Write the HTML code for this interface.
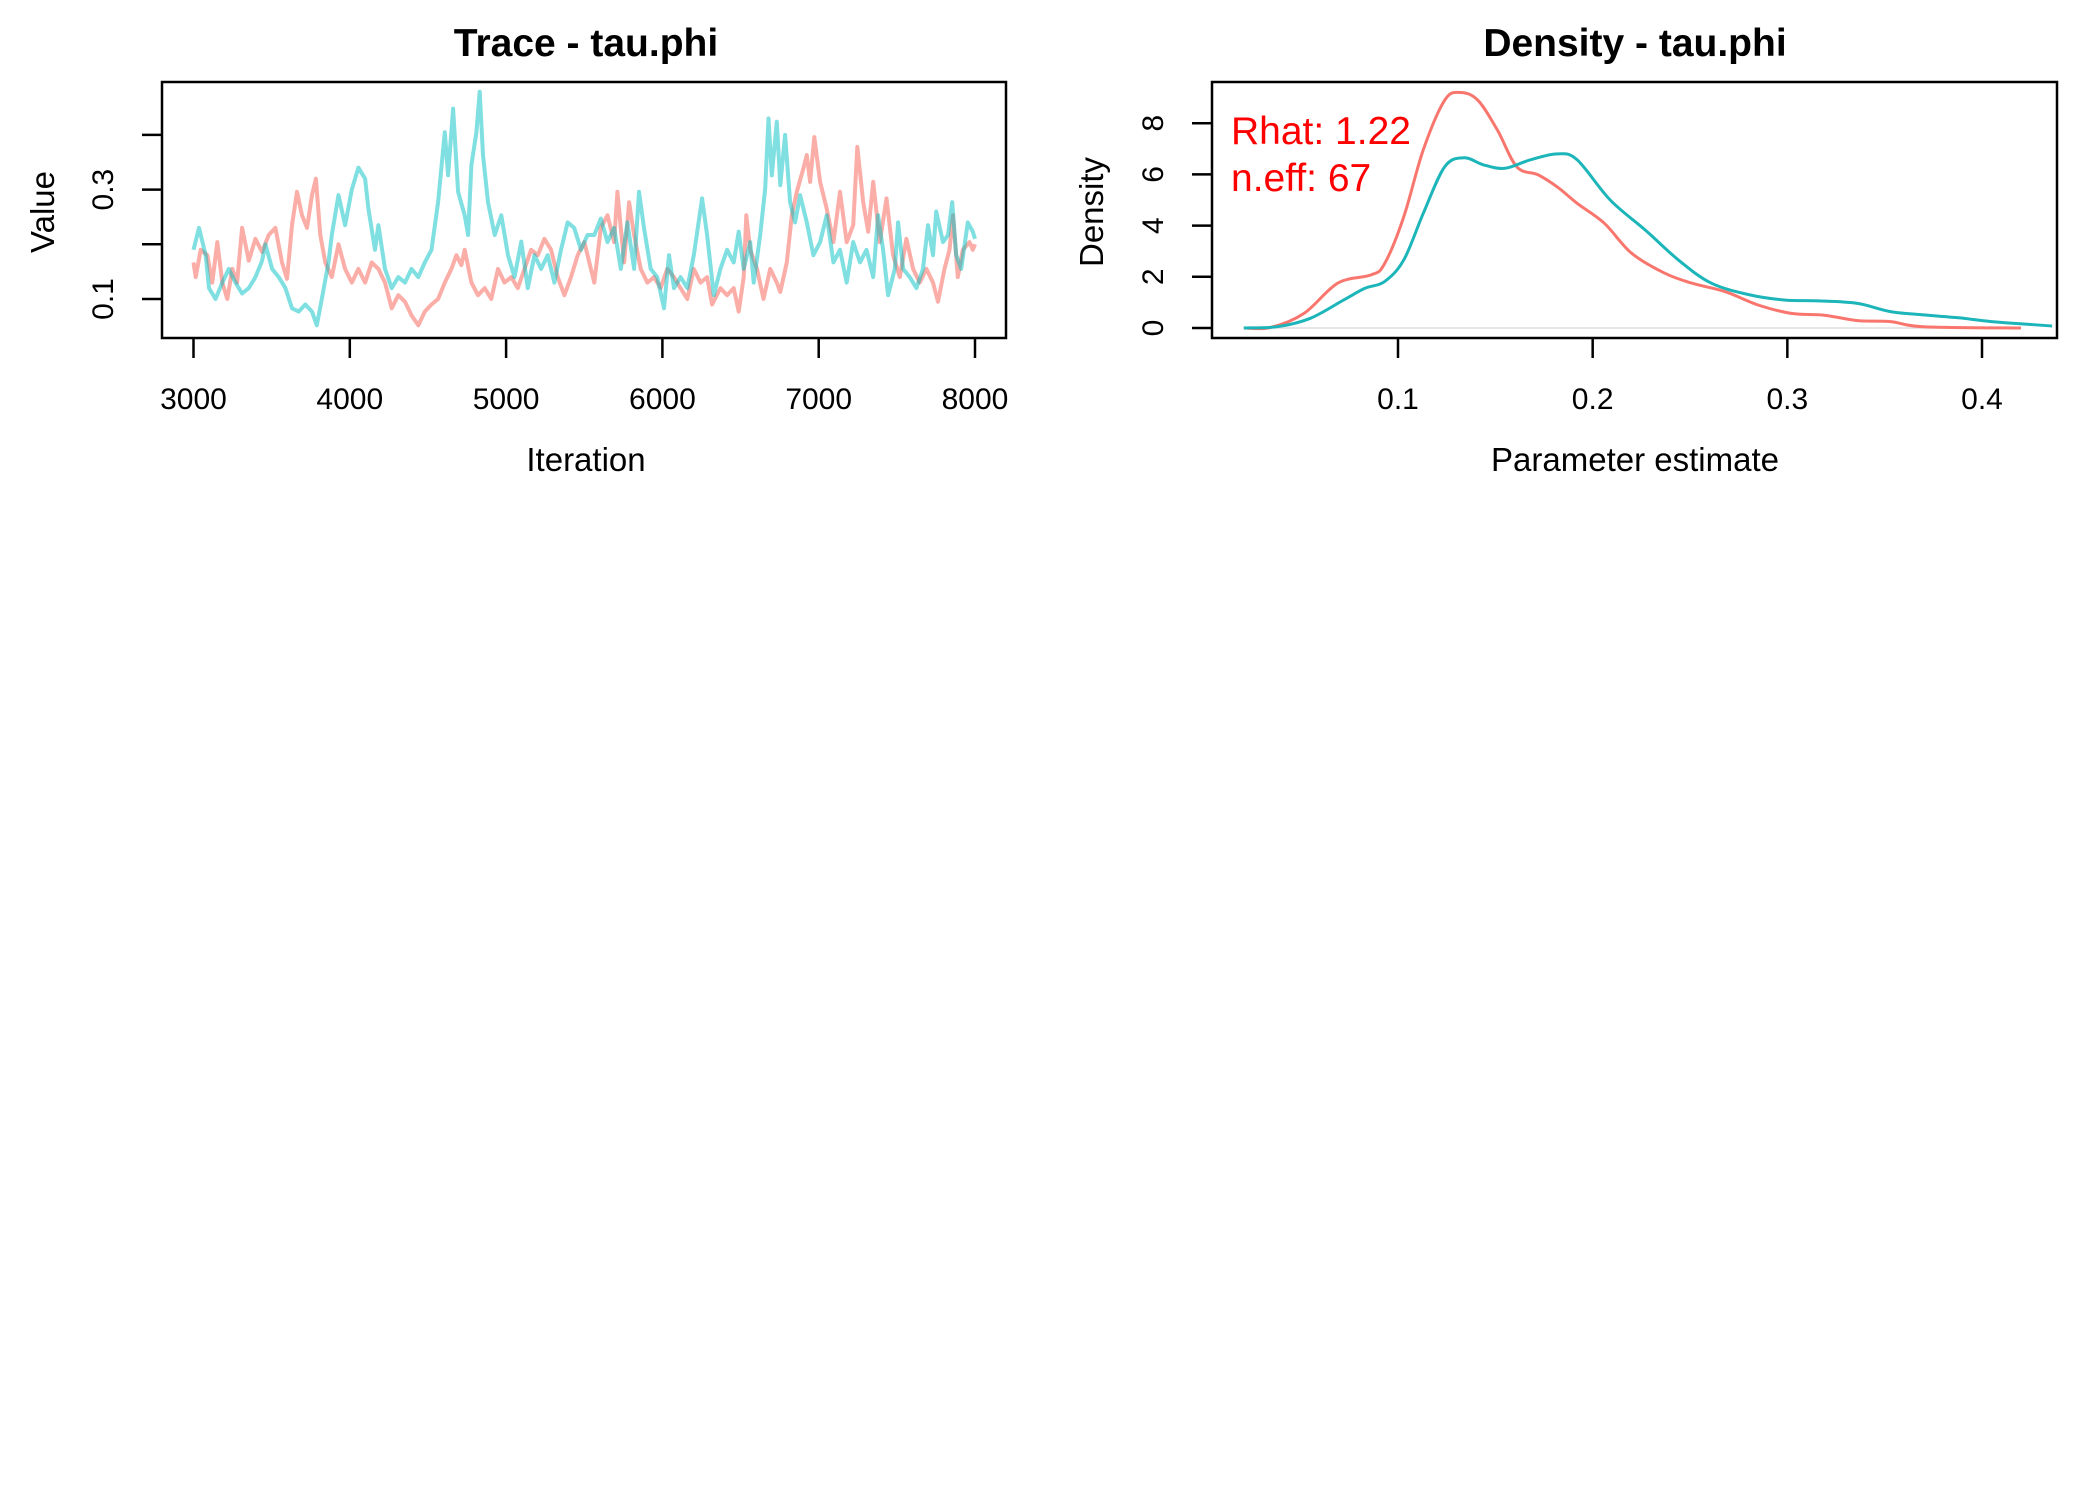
<!DOCTYPE html>
<html><head><meta charset="utf-8"><style>
html,body{margin:0;padding:0;background:#fff;}
svg{display:block;font-family:"Liberation Sans",Arial,sans-serif;}
</style></head><body>
<svg id="fig" width="2100" height="1500" viewBox="0 0 2100 1500" xmlns="http://www.w3.org/2000/svg">
<g id="trace"></g>
<g id="dens"></g>
</svg>
<script>
// ---- Trace data ----
const tealIter=[3000,3035,3078,3099,3141,3184,3226,3269,3311,3354,3396,3439,3460,3503,3545,3588,3630,3673,3715,3758,3789,3821,3864,3885,3928,3970,4013,4055,4098,4119,4161,4183,4225,4268,4310,4353,4395,4438,4480,4523,4565,4608,4629,4661,4693,4735,4757,4778,4810,4831,4852,4884,4927,4969,5012,5054,5097,5139,5182,5224,5266,5309,5351,5394,5436,5479,5521,5564,5606,5649,5691,5734,5776,5819,5850,5882,5925,5967,6010,6042,6074,6116,6159,6201,6254,6286,6329,6371,6414,6456,6488,6520,6562,6584,6626,6658,6679,6700,6732,6754,6785,6817,6849,6881,6924,6966,7009,7051,7094,7136,7179,7221,7264,7306,7349,7380,7412,7444,7487,7508,7540,7582,7625,7667,7699,7731,7752,7795,7827,7854,7880,7912,7954,7986,8000];
const tealVal=[0.19,0.23,0.18,0.12,0.10,0.13,0.155,0.13,0.11,0.12,0.14,0.17,0.20,0.155,0.14,0.12,0.083,0.077,0.09,0.077,0.052,0.10,0.167,0.217,0.29,0.235,0.30,0.34,0.32,0.265,0.19,0.235,0.155,0.12,0.14,0.13,0.155,0.14,0.167,0.19,0.277,0.405,0.326,0.448,0.296,0.253,0.217,0.345,0.405,0.479,0.363,0.277,0.217,0.253,0.18,0.14,0.205,0.12,0.18,0.155,0.18,0.13,0.19,0.24,0.23,0.19,0.217,0.217,0.247,0.204,0.23,0.155,0.24,0.155,0.296,0.23,0.155,0.14,0.083,0.18,0.12,0.14,0.12,0.18,0.284,0.217,0.107,0.155,0.19,0.167,0.223,0.155,0.204,0.13,0.217,0.302,0.43,0.326,0.424,0.308,0.40,0.277,0.24,0.29,0.24,0.18,0.204,0.253,0.167,0.19,0.13,0.204,0.167,0.19,0.14,0.253,0.19,0.107,0.155,0.24,0.155,0.14,0.12,0.155,0.235,0.18,0.26,0.204,0.217,0.277,0.18,0.155,0.24,0.223,0.21];
const redIter=[3000,3014,3046,3088,3120,3152,3184,3216,3248,3279,3311,3354,3396,3439,3481,3524,3566,3598,3630,3662,3694,3726,3758,3783,3811,3843,3885,3928,3970,4013,4055,4098,4140,4183,4225,4268,4310,4353,4395,4438,4480,4523,4565,4608,4650,4682,4714,4735,4778,4820,4863,4905,4948,4990,5033,5075,5118,5160,5203,5245,5288,5330,5373,5415,5458,5500,5564,5606,5649,5691,5712,5755,5787,5819,5861,5904,5946,5989,6031,6074,6116,6159,6201,6244,6286,6318,6371,6414,6456,6488,6520,6537,6562,6605,6647,6690,6732,6754,6796,6828,6860,6902,6924,6945,6972,7009,7051,7094,7136,7179,7221,7247,7285,7317,7349,7391,7434,7476,7519,7561,7604,7646,7689,7731,7763,7805,7837,7859,7890,7922,7965,7986,8000];
const redVal=[0.167,0.14,0.19,0.18,0.13,0.204,0.13,0.10,0.155,0.13,0.23,0.17,0.21,0.186,0.217,0.23,0.167,0.137,0.235,0.296,0.253,0.23,0.29,0.32,0.217,0.167,0.14,0.20,0.155,0.13,0.155,0.13,0.167,0.155,0.13,0.083,0.107,0.095,0.07,0.052,0.077,0.09,0.10,0.13,0.155,0.18,0.162,0.19,0.13,0.107,0.12,0.10,0.155,0.13,0.14,0.12,0.155,0.19,0.18,0.21,0.19,0.14,0.107,0.14,0.18,0.204,0.13,0.23,0.253,0.204,0.296,0.167,0.277,0.217,0.155,0.13,0.14,0.12,0.155,0.14,0.12,0.10,0.155,0.13,0.14,0.09,0.12,0.107,0.12,0.077,0.14,0.253,0.19,0.155,0.10,0.155,0.13,0.113,0.167,0.253,0.296,0.339,0.363,0.314,0.396,0.314,0.265,0.204,0.296,0.204,0.235,0.378,0.277,0.223,0.314,0.204,0.284,0.18,0.14,0.21,0.155,0.13,0.155,0.13,0.095,0.155,0.19,0.253,0.14,0.19,0.204,0.19,0.2];
const traceXTicks=[3000,4000,5000,6000,7000,8000];
const traceYTicks=[0.1,0.2,0.3,0.4];
const traceYLabels=["0.1","","0.3",""];
// ---- Density data ----
const redDx=[0.0208,0.0345,0.0517,0.069,0.086,0.093,0.103,0.113,0.124,0.132,0.141,0.151,0.161,0.172,0.182,0.192,0.206,0.220,0.237,0.251,0.268,0.285,0.302,0.319,0.336,0.353,0.370,0.42];
const redDy=[0,0.02,0.57,1.75,2.07,2.5,4.35,6.96,8.9,9.2,8.9,7.74,6.3,5.98,5.5,4.87,4.09,2.92,2.14,1.75,1.42,0.9,0.57,0.5,0.29,0.25,0.05,0];
const tealDx=[0.0208,0.038,0.055,0.072,0.083,0.093,0.103,0.113,0.124,0.134,0.144,0.155,0.168,0.182,0.192,0.209,0.227,0.244,0.261,0.281,0.299,0.316,0.336,0.353,0.370,0.388,0.405,0.436];
const tealDy=[0,0.05,0.38,1.09,1.55,1.81,2.66,4.48,6.3,6.65,6.37,6.24,6.57,6.8,6.57,5.0,3.83,2.66,1.75,1.29,1.09,1.06,0.96,0.64,0.51,0.4,0.25,0.08];
const densXTicks=[0.1,0.2,0.3,0.4];
const densYTicks=[0,2,4,6,8];

const NS="http://www.w3.org/2000/svg";
function mk(parent,tag,attrs,text){const e=document.createElementNS(NS,tag);for(const k in attrs)e.setAttribute(k,attrs[k]);if(text!==undefined)e.textContent=text;parent.appendChild(e);return e;}

// Trace axes
const tx=v=>193.5+(v-3000)*(975-193.5)/5000;
const ty=v=>299-(v-0.1)*547;
const T=document.getElementById('trace');
let e;
e=mk(T,'text',{x:586,y:56,'font-size':39,'font-weight':'bold','text-anchor':'middle'},'Trace - tau.phi');


function poly(parent,xs,ys,fx,fy,color,op,w){let d='';for(let i=0;i<xs.length;i++)d+=(i?'L':'M')+fx(xs[i]).toFixed(1)+' '+fy(ys[i]).toFixed(1);return mk(parent,'path',{d:d,fill:'none',stroke:color,'stroke-opacity':op,'stroke-width':w,'stroke-linejoin':'round'});}
e=poly(T,redIter,redVal,tx,ty,'#F8766D',0.6,4);


e=poly(T,tealIter,tealVal,tx,ty,'#00BFC4',0.5,4);


e=mk(T,'rect',{x:162,y:82,width:844,height:256,fill:'none',stroke:'#000','stroke-width':2.5});


traceXTicks.forEach(t=>{
  e=mk(T,'line',{x1:tx(t),x2:tx(t),y1:338,y2:358,stroke:'#000','stroke-width':2.5});
  
  
  e=mk(T,'text',{x:tx(t),y:409,'font-size':30,'text-anchor':'middle'},String(t));
  
  
});
traceYTicks.forEach((t,i)=>{
  e=mk(T,'line',{x1:142,x2:162,y1:ty(t),y2:ty(t),stroke:'#000','stroke-width':2.5});
  
  
  if(traceYLabels[i]){
    e=mk(T,'text',{x:0,y:0,'font-size':30,'text-anchor':'middle',transform:`translate(113,${ty(t)}) rotate(-90)`},traceYLabels[i]);
    
    
  }
});
e=mk(T,'text',{x:586,y:471,'font-size':33,'text-anchor':'middle'},'Iteration');


e=mk(T,'text',{x:0,y:0,'font-size':33,'text-anchor':'middle',transform:'translate(54,212) rotate(-90)'},'Value');



// Density axes
const dx=v=>1398+(v-0.1)*1946.7;
const dy=v=>328-v*25.6;
const D=document.getElementById('dens');
e=mk(D,'text',{x:1635,y:56,'font-size':39,'font-weight':'bold','text-anchor':'middle'},'Density - tau.phi');


e=mk(D,'line',{x1:dx(0.0208),x2:dx(0.42),y1:dy(0),y2:dy(0),stroke:'#ddd','stroke-width':1.5});


function smooth(xs,ys){let p=xs.map((x,i)=>[dx(x),dy(ys[i])]);let d='M'+p[0][0].toFixed(1)+' '+p[0][1].toFixed(1);for(let i=0;i<p.length-1;i++){const p0=p[Math.max(i-1,0)],p1=p[i],p2=p[i+1],p3=p[Math.min(i+2,p.length-1)];const c1=[p1[0]+(p2[0]-p0[0])/6,p1[1]+(p2[1]-p0[1])/6],c2=[p2[0]-(p3[0]-p1[0])/6,p2[1]-(p3[1]-p1[1])/6];d+=`C${c1[0].toFixed(1)} ${c1[1].toFixed(1)} ${c2[0].toFixed(1)} ${c2[1].toFixed(1)} ${p2[0].toFixed(1)} ${p2[1].toFixed(1)}`;}return d;}
const clip=mk(D,'clipPath',{id:'dclip'});mk(clip,'rect',{x:1212,y:82,width:845,height:256});
e=mk(D,'path',{d:smooth(redDx,redDy),fill:'none',stroke:'#F8766D','stroke-width':3,'clip-path':'url(#dclip)'});


e=mk(D,'path',{d:smooth(tealDx,tealDy),fill:'none',stroke:'#1CB5B9','stroke-width':3,'clip-path':'url(#dclip)'});


e=mk(D,'rect',{x:1212,y:82,width:845,height:256,fill:'none',stroke:'#000','stroke-width':2.5});


densXTicks.forEach(t=>{
  e=mk(D,'line',{x1:dx(t),x2:dx(t),y1:338,y2:358,stroke:'#000','stroke-width':2.5});
  
  
  e=mk(D,'text',{x:dx(t),y:409,'font-size':30,'text-anchor':'middle'},t.toFixed(1));
  
  
});
densYTicks.forEach(t=>{
  e=mk(D,'line',{x1:1192,x2:1212,y1:dy(t),y2:dy(t),stroke:'#000','stroke-width':2.5});
  
  
  e=mk(D,'text',{x:0,y:0,'font-size':30,'text-anchor':'middle',transform:`translate(1163,${dy(t)}) rotate(-90)`},String(t));
  
  
});
e=mk(D,'text',{x:1635,y:471,'font-size':33,'text-anchor':'middle'},'Parameter estimate');


e=mk(D,'text',{x:0,y:0,'font-size':33,'text-anchor':'middle',transform:'translate(1103,212) rotate(-90)'},'Density');


e=mk(D,'text',{x:1231,y:144,'font-size':39,fill:'#FF0000'},'Rhat: 1.22');


e=mk(D,'text',{x:1231,y:191,'font-size':39,fill:'#FF0000'},'n.eff: 67');


</script>
</body></html>
